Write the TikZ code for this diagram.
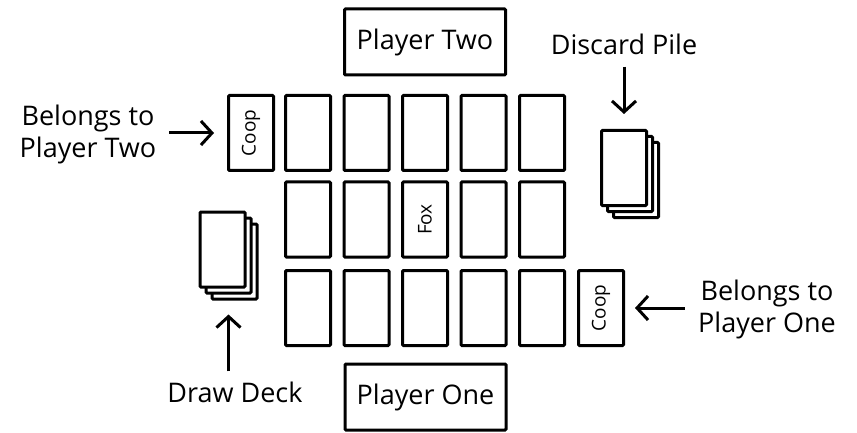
\documentclass[tikz,border=0pt]{standalone}
\usepackage{fontspec}
\setmainfont{Open Sans}
\usetikzlibrary{arrows.meta}
\begin{document}
\begin{tikzpicture}[x=1pt,y=-1pt,
  card/.style={draw, line width=3pt, rounded corners=1pt, fill=white, minimum width=45pt, minimum height=75pt, inner sep=0pt},
  pbox/.style={draw, line width=3pt, rounded corners=1pt, minimum width=161pt, minimum height=66pt, inner sep=0pt, font=\fontsize{27}{32}\selectfont},
  lbl/.style={align=center, font=\fontsize{27}{32}\selectfont, inner sep=0pt},
  small/.style={rotate=90, inner sep=0pt, font=\fontsize{19}{22}\selectfont},
  arr/.style={line width=3pt, -{Straight Barb[length=11pt,width=24pt,line width=3pt]}}
]
\useasboundingbox (0,0) rectangle (857,433);
% player boxes
\node[pbox] (p2) at (425,42) {Player Two};
\node[pbox] (p1) at (425.5,397) {Player One};
% top and bottom rows
\node[card] (coopT) at (251,133) {};
\node[small] (coopTt) at (coopT) {Coop};
\foreach \i/\x in {1/308,2/366.5,3/425,4/483.5,5/542}{
  \node[card] (t\i) at (\x,133) {};
  \node[card] (m\i) at (\x,219.5) {};
  \node[card] (b\i) at (\x,308) {};
}
\node[small] (fox) at (m3) {Fox};
\node[card] (coopB) at (601,308) {};
\node[small] (coopBt) at (coopB) {Coop};
% draw deck
\node[card] (dk3) at (234.5,261.5) {};
\node[card] (dk2) at (228.5,255.5) {};
\node[card] (dk1) at (222.5,249.5) {};
% discard pile
\node[card] (ds3) at (636,180) {};
\node[card] (ds2) at (630,174) {};
\node[card] (ds1) at (624,168) {};
% labels
\node[lbl] (bl2) at (88,134) {Belongs to\\Player Two};
\node[lbl] (bl1) at (767,309) {Belongs to\\Player One};
\node[lbl] (dd) at (235,392) {Draw Deck};
\node[lbl] (dp) at (624,44) {Discard Pile};
% arrows
\draw[arr, shorten <=13pt, shorten >=13pt] (bl2.east |- coopT) -- (coopT.west);
\draw[arr, shorten <=13pt, shorten >=10pt] (bl1.west |- coopB) -- (coopB.east);
\draw[arr, shorten <=10pt, shorten >=14pt] (dd.north -| dk2) -- (dk3.south -| dk2);
\draw[arr, shorten <=12pt, shorten >=15pt] (dp.south -| ds1) -- (ds1.north);
\end{tikzpicture}
\end{document}
